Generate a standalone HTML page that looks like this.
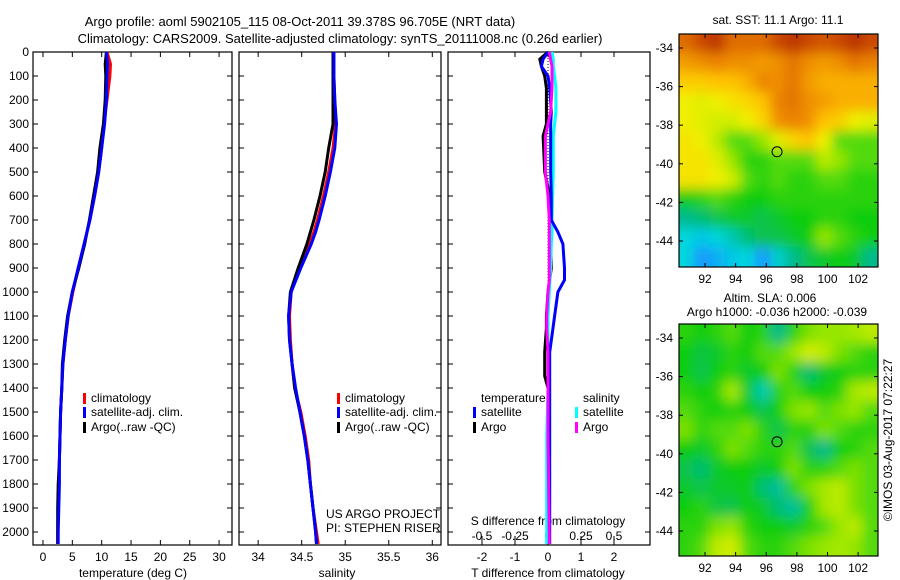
<!DOCTYPE html>
<html><head><meta charset="utf-8"><style>
html,body{margin:0;padding:0;background:#fff}
svg{display:block;font-family:"Liberation Sans",sans-serif;font-size:12px}
</style></head><body>
<svg id="c" width="900" height="580" viewBox="0 0 900 580">
<text x="300" y="26" text-anchor="middle" font-size="13">Argo profile: aoml 5902105_115 08-Oct-2011 39.378S 96.705E (NRT data)</text>
<text x="340" y="43" text-anchor="middle" font-size="13">Climatology: CARS2009. Satellite-adjusted climatology: synTS_20111008.nc (0.26d earlier)</text>
<text x="778" y="24" text-anchor="middle">sat. SST: 11.1 Argo: 11.1</text>
<text x="770" y="302" text-anchor="middle">Altim. SLA: 0.006</text>
<text x="777" y="316" text-anchor="middle">Argo h1000: -0.036 h2000: -0.039</text>
<text transform="translate(892,440) rotate(-90)" text-anchor="middle">©IMOS 03-Aug-2017 07:22:27</text>
<g id="g"></g>
</svg>
<script>
// ---------- data ----------
const depthTicks=[0,100,200,300,400,500,600,700,800,900,1000,1100,1200,1300,1400,1500,1600,1700,1800,1900,2000];
const tempTicks=[0,5,10,15,20,25,30];
const salTicks=[34,34.5,35,35.5,36];
const salTickLabels=["34","34.5","35","35.5","36"];
const dtTicks=[-2,-1,0,1,2];
const dsTicks=[-0.5,-0.25,0,0.25,0.5];
const dsTickLabels=["-0.5","-0.25","0","0.25","0.5"];
const lonTicks=[92,94,96,98,100,102];
const latTicks=[-34,-36,-38,-40,-42,-44];

const profDepth=[0,50,100,200,300,400,500,600,700,750,800,900,1000,1100,1200,1300,1400,1500,1600,1700,1800,1900,2000,2050];
const tempClim=[10.9,11.5,11.4,10.9,10.4,10,9.5,8.8,8,7.5,7,6,5.1,4.3,3.8,3.4,3.2,3,2.9,2.8,2.7,2.6,2.5,2.5];
const tempSat=[10.8,11,10.9,10.8,10.5,10,9.5,8.8,8,7.5,7,6,5,4.3,3.8,3.4,3.2,3,2.9,2.8,2.8,2.7,2.6,2.6];
const tempArgo=[10.8,10.6,10.7,10.6,10.3,9.7,9.3,8.6,7.9,7.5,7.1,6.1,5,4.2,3.7,3.3,3.2,3,2.9,2.8,2.6,2.5,2.5,2.5];
const salClim=[34.87,34.87,34.87,34.88,34.89,34.86,34.81,34.75,34.68,34.64,34.59,34.48,34.38,34.36,34.37,34.39,34.42,34.49,34.54,34.58,34.6,34.63,34.67,34.69];
const salSat=[34.87,34.87,34.87,34.88,34.9,34.88,34.83,34.77,34.7,34.66,34.61,34.49,34.38,34.35,34.36,34.39,34.43,34.48,34.53,34.57,34.6,34.63,34.66,34.67];
const salArgo=[34.86,34.86,34.86,34.86,34.86,34.81,34.77,34.71,34.64,34.6,34.56,34.46,34.37,34.35,34.36,34.39,34.42,34.48,34.53,34.57,34.6,34.63,34.66,34.67];

const diffDepth=[0,30,60,100,150,250,300,350,500,600,700,750,800,900,950,1000,1100,1150,1250,1350,1400,1600,2050];
const dTsat=[0,-0.15,-0.2,0,0.05,0.1,0.08,0.08,0.08,0.1,0.1,0.3,0.45,0.5,0.5,0.3,0.2,0.15,0.05,0.05,0.05,0.05,0.05];
const dTargo=[0,-0.25,-0.2,-0.1,-0.05,-0.05,-0.05,-0.15,-0.1,0.05,0.05,0.05,0.08,0.1,0.05,0,-0.05,-0.05,-0.1,-0.1,0,0,0];
const dSsat=[0.03,0.04,0.04,0.05,0.06,0.06,0.05,0.04,0.04,0.035,0.03,0.03,0.025,0.02,0.015,0.01,0,0,0,0,0,-0.01,-0.01];
const dSargo=[0.01,0.02,0.03,0.03,0.03,0.02,0,-0.02,-0.02,0,0.01,0.01,0.01,0.01,0.01,0,-0.01,-0.01,0,0,0,0,0.01];

const sstGrid=[
[0.85,0.9,0.94,0.85,0.85,0.85,0.9,0.94,0.9,0.88,0.9,0.95,0.9],
[0.78,0.8,0.82,0.8,0.8,0.78,0.8,0.84,0.8,0.78,0.8,0.84,0.82],
[0.7,0.7,0.72,0.72,0.75,0.82,0.8,0.84,0.78,0.75,0.75,0.75,0.75],
[0.62,0.6,0.62,0.65,0.68,0.72,0.82,0.84,0.8,0.78,0.75,0.75,0.75],
[0.62,0.6,0.58,0.58,0.62,0.68,0.8,0.82,0.8,0.72,0.7,0.62,0.6],
[0.65,0.62,0.55,0.45,0.45,0.5,0.6,0.68,0.72,0.62,0.45,0.45,0.45],
[0.65,0.65,0.6,0.5,0.42,0.42,0.45,0.45,0.45,0.55,0.5,0.45,0.45],
[0.65,0.65,0.62,0.58,0.45,0.42,0.45,0.42,0.42,0.45,0.45,0.42,0.42],
[0.4,0.42,0.45,0.42,0.4,0.4,0.42,0.42,0.42,0.42,0.42,0.42,0.42],
[0.3,0.32,0.35,0.38,0.38,0.35,0.38,0.4,0.4,0.42,0.42,0.4,0.4],
[0.2,0.18,0.2,0.25,0.32,0.35,0.35,0.38,0.4,0.5,0.45,0.42,0.4],
[0.2,0.12,0.15,0.18,0.2,0.12,0.22,0.3,0.35,0.38,0.4,0.38,0.3]];
const slaGrid=[
[0.42,0.4,0.42,0.45,0.4,0.42,0.3,0.42,0.48,0.5,0.5,0.52,0.55],
[0.4,0.36,0.38,0.42,0.4,0.45,0.45,0.5,0.58,0.55,0.48,0.45,0.42],
[0.4,0.35,0.4,0.42,0.38,0.4,0.48,0.42,0.32,0.38,0.4,0.42,0.42],
[0.42,0.4,0.42,0.52,0.38,0.25,0.42,0.45,0.4,0.4,0.42,0.52,0.55],
[0.45,0.42,0.4,0.42,0.4,0.35,0.4,0.48,0.5,0.45,0.48,0.5,0.45],
[0.48,0.42,0.45,0.45,0.48,0.42,0.35,0.42,0.42,0.48,0.45,0.42,0.42],
[0.4,0.38,0.42,0.48,0.45,0.42,0.42,0.45,0.35,0.3,0.4,0.42,0.45],
[0.35,0.32,0.38,0.4,0.4,0.38,0.4,0.48,0.42,0.42,0.45,0.48,0.45],
[0.38,0.35,0.38,0.38,0.4,0.32,0.28,0.42,0.48,0.52,0.55,0.48,0.45],
[0.4,0.42,0.36,0.35,0.4,0.38,0.32,0.28,0.4,0.52,0.55,0.48,0.45],
[0.42,0.42,0.48,0.5,0.42,0.4,0.4,0.38,0.42,0.45,0.5,0.55,0.45],
[0.42,0.45,0.55,0.58,0.45,0.42,0.42,0.45,0.48,0.5,0.52,0.5,0.45]];
const argoLon=96.705, argoLat=-39.378;

// ---------- drawing ----------
const NS='http://www.w3.org/2000/svg';
const G=document.getElementById('g');
function mk(tag,at,parent){const e=document.createElementNS(NS,tag);for(const k in at)e.setAttribute(k,at[k]);(parent||G).appendChild(e);return e;}
function txt(x,y,s,anchor,parent){const t=mk('text',{x:x,y:y,'text-anchor':anchor||'middle'},parent);t.textContent=s;return t;}
const Y0=52, PXM=0.24, YB=545;
const yD=d=>Y0+d*PXM;

function panel(name,x0,x1,vmin,vmax){
  const sx=v=>x0+(v-vmin)/(vmax-vmin)*(x1-x0);
  const g=mk('g',{});
  
  
  const r=mk('rect',{x:x0,y:Y0,width:x1-x0,height:YB-Y0,fill:'none',stroke:'#000','stroke-width':1.2},g);
  
  
  depthTicks.forEach(d=>{mk('line',{x1:x0,x2:x0+5,y1:yD(d),y2:yD(d),stroke:'#000'},g);mk('line',{x1:x1,x2:x1-5,y1:yD(d),y2:yD(d),stroke:'#000'},g);});
  return {g,sx};
}
function line(g,xs,ds,sx,color,w,name){
  const p=mk('polyline',{points:xs.map((v,i)=>sx(v).toFixed(1)+','+yD(ds[i]).toFixed(1)).join(' '),fill:'none',stroke:color,'stroke-width':w},g);
  
  
}
function legend(g,x,y,color,label,name){
  const r=mk('rect',{x:x,y:y-9,width:3,height:11,fill:color},g);
  const t=txt(x+8,y,label,'start',g);
  
  
}

const yl=mk('g',{});


depthTicks.forEach(d=>txt(29,yD(d)+4,String(d),'end',yl));

{const P=panel('temperature-panel',33,232,-1.7,32.2);
 tempTicks.forEach(v=>{mk('line',{x1:P.sx(v),x2:P.sx(v),y1:YB,y2:YB-5,stroke:'#000'},P.g);mk('line',{x1:P.sx(v),x2:P.sx(v),y1:Y0,y2:Y0+5,stroke:'#000'},P.g);txt(P.sx(v),561,String(v),'middle',P.g);});
 txt(133,577,'temperature (deg C)','middle',P.g);
 line(P.g,tempClim,profDepth,P.sx,'#f00',3,'temp-climatology-line');
 line(P.g,tempArgo,profDepth,P.sx,'#000',3,'temp-argo-line');
 line(P.g,tempSat,profDepth,P.sx,'#00f',3,'temp-satellite-line');
 legend(P.g,83,402,'#f00','climatology','legend-climatology');
 legend(P.g,83,416,'#00f','satellite-adj. clim.','legend-satellite');
 legend(P.g,83,431,'#000','Argo(..raw -QC)','legend-argo');}

{const P=panel('salinity-panel',239,441,33.78,36.1);
 salTicks.forEach((v,i)=>{mk('line',{x1:P.sx(v),x2:P.sx(v),y1:YB,y2:YB-5,stroke:'#000'},P.g);mk('line',{x1:P.sx(v),x2:P.sx(v),y1:Y0,y2:Y0+5,stroke:'#000'},P.g);txt(P.sx(v),561,salTickLabels[i],'middle',P.g);});
 txt(337,577,'salinity','middle',P.g);
 line(P.g,salClim,profDepth,P.sx,'#f00',3,'sal-climatology-line');
 line(P.g,salArgo,profDepth,P.sx,'#000',3,'sal-argo-line');
 line(P.g,salSat,profDepth,P.sx,'#00f',3,'sal-satellite-line');
 legend(P.g,337,402,'#f00','climatology','legend-climatology-2');
 legend(P.g,337,416,'#00f','satellite-adj. clim.','legend-satellite-2');
 legend(P.g,337,431,'#000','Argo(..raw -QC)','legend-argo-2');
 const a=txt(326,518,'US ARGO PROJECT','start',P.g);
 const b=txt(326,532,'PI: STEPHEN RISER','start',P.g);}

{const x0=448,x1=650;
 const P=panel('difference-panel',x0,x1,-3.03,3.09);
 const sxT=P.sx, sxS=v=>548+v*132;
 dtTicks.forEach(v=>{mk('line',{x1:sxT(v),x2:sxT(v),y1:YB,y2:YB-5,stroke:'#000'},P.g);txt(sxT(v),561,String(v),'middle',P.g);});
 dsTicks.forEach((v,i)=>{mk('line',{x1:sxS(v),x2:sxS(v),y1:Y0,y2:Y0+5,stroke:'#000'},P.g);mk('line',{x1:sxS(v),x2:sxS(v),y1:YB,y2:YB-9,stroke:'#000'},P.g);txt(sxS(v),540,dsTickLabels[i],'middle',P.g);});
 txt(548,525,'S difference from climatology','middle',P.g);
 txt(548,577,'T difference from climatology','middle',P.g);
 mk('line',{x1:548,x2:548,y1:Y0,y2:YB,stroke:'#000','stroke-dasharray':'1,2'},P.g);
 line(P.g,dTargo,diffDepth,sxT,'#000',3,'dT-argo-line');
 line(P.g,dSsat,diffDepth,sxS,'#0ff',3,'dS-satellite-line');
 line(P.g,dTsat,diffDepth,sxT,'#00f',3,'dT-satellite-line');
 line(P.g,dSargo,diffDepth,sxS,'#f0f',3,'dS-argo-line');
 txt(481,402,'temperature','start',P.g);
 txt(583,402,'salinity','start',P.g);
 legend(P.g,473,416,'#00f','satellite','legend-t-satellite');
 legend(P.g,473,431,'#000','Argo','legend-t-argo');
 legend(P.g,575,416,'#0ff','satellite','legend-s-satellite');
 legend(P.g,575,431,'#f0f','Argo','legend-s-argo');}

const cmapStops=[[0,[16,80,255]],[0.12,[20,150,255]],[0.2,[0,215,220]],[0.3,[0,185,140]],[0.4,[16,205,16]],[0.5,[150,230,0]],[0.62,[240,240,0]],[0.72,[255,195,0]],[0.82,[235,130,0]],[0.92,[195,60,0]],[1,[170,30,0]]];
function cmap(v){for(let i=1;i<cmapStops.length;i++){if(v<=cmapStops[i][0]){const a=cmapStops[i-1],b=cmapStops[i];const t=(v-a[0])/(b[0]-a[0]);return 'rgb('+a[1].map((c,k)=>Math.round(c+(b[1][k]-c)*t)).join(',')+')';}}return 'rgb(170,30,0)';}
const defs=mk('defs',{});
const f=mk('filter',{id:'blur',x:'-10%',y:'-10%',width:'120%',height:'120%'},defs);
mk('feGaussianBlur',{stdDeviation:'6'},f);
function map(name,top,bot,lat34y,grid){
  const x0=679,x1=878,lonMin=90.3,lonMax=103.3;
  const sx=lon=>x0+(lon-lonMin)/(lonMax-lonMin)*(x1-x0);
  const pdeg=19.3;
  const sy=lat=>lat34y+(-34-lat)*pdeg;
  const g=mk('g',{});
  
  
  const id='clip'+name;
  const cp=mk('clipPath',{id:id},g);mk('rect',{x:x0,y:top,width:x1-x0,height:bot-top},cp);
  const cg=mk('g',{'clip-path':'url(#'+id+')'},g);
  const fg=mk('g',{filter:'url(#blur)'},cg);
  const nr=grid.length;
  const ch=(bot-top)/nr;
  grid.forEach((row,r)=>row.forEach((v,c)=>{
    const lonA=lonMin+c;
    const y=top+r*ch;
    const ex=(c===0?-12:0), ew=(c===0?12:0)+(c===row.length-1?12:0);
    const ey=(r===0?-12:0), eh=(r===0?12:0)+(r===nr-1?12:0);
    const cell=mk('rect',{x:sx(lonA)-0.5+ex,y:y-0.5+ey,width:sx(lonA+1)-sx(lonA)+1+ew,height:ch+1+eh,fill:cmap(v)},fg);
    
    
  }));
  const m=mk('circle',{cx:sx(argoLon),cy:sy(argoLat),r:5,fill:'none',stroke:'#000','stroke-width':1},g);
  
  
  mk('rect',{x:x0,y:top,width:x1-x0,height:bot-top,fill:'none',stroke:'#000','stroke-width':1.2},g);
  lonTicks.forEach(l=>{mk('line',{x1:sx(l),x2:sx(l),y1:bot,y2:bot-4,stroke:'#000'},g);mk('line',{x1:sx(l),x2:sx(l),y1:top,y2:top+4,stroke:'#000'},g);txt(sx(l),bot+16,String(l),'middle',g);});
  latTicks.forEach(l=>{mk('line',{x1:x0,x2:x0+4,y1:sy(l),y2:sy(l),stroke:'#000'},g);mk('line',{x1:x1,x2:x1-4,y1:sy(l),y2:sy(l),stroke:'#000'},g);txt(x0-6,sy(l)+4,String(l),'end',g);});
}
map('sst-map',34,267,48,sstGrid);
map('sla-map',324,556,338,slaGrid);
</script>
</body></html>
